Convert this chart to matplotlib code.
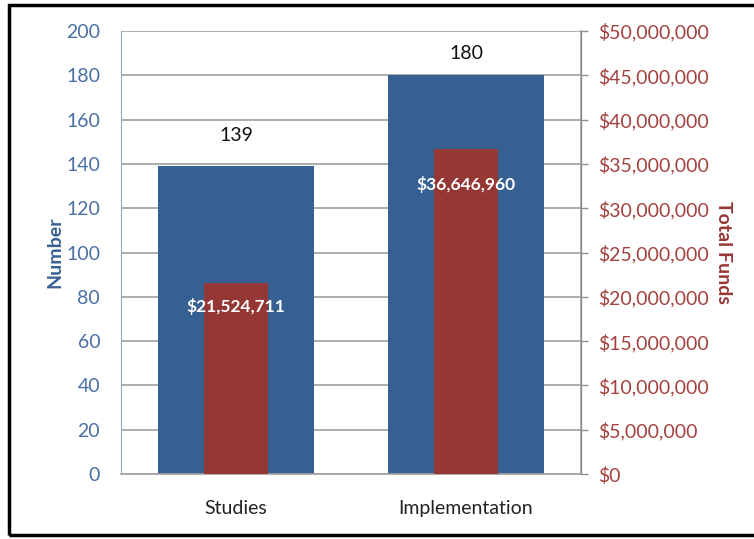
import matplotlib
matplotlib.use("Agg")
import matplotlib.pyplot as plt
from matplotlib.patches import Rectangle
from matplotlib.ticker import FuncFormatter

categories = ["Studies", "Implementation"]
numbers = [139, 180]
funds = [21524711, 36646960]
number_ticks = list(range(0, 201, 20))
fund_ticks = list(range(0, 50000001, 5000000))

plt.rcParams['font.family'] = ['Lato', 'DejaVu Sans']

BLUE = "#366092"
RED = "#953735"
BLUE_TXT = "#4A6FA4"
RED_TXT = "#A3423F"

fig = plt.figure(figsize=(7.54, 5.39), dpi=100)
ax = fig.add_axes([121/754, 1-474/539, 460/754, 443/539])
ax2 = ax.twinx()

x = list(range(len(categories)))
ax.bar(x, numbers, width=0.674, color=BLUE, zorder=2)
ax2.bar(x, funds, width=0.28, color=RED, zorder=2)

ax.set_xlim(-0.5, 1.5)
ax.set_ylim(0, 200)
ax2.set_ylim(0, 50000000)
ax.set_yticks(number_ticks)
ax2.set_yticks(fund_ticks)
ax2.yaxis.set_major_formatter(FuncFormatter(lambda v, p: "${:,.0f}".format(v)))
ax.set_xticks(x)
ax.set_xticklabels(categories, fontsize=14, color="#222222")

ax.set_axisbelow(True)
ax.yaxis.grid(True, color="#A0A0A0", linewidth=1.2)
ax.tick_params(axis='y', length=0, labelsize=14, labelcolor=BLUE_TXT, pad=15)
ax.tick_params(axis='x', length=0, pad=19)
ax2.tick_params(axis='y', length=5, width=1, color="#909090", labelsize=14,
                labelcolor=RED_TXT, pad=7, direction='out')

for a in (ax, ax2):
    a.spines['top'].set_visible(False)
ax.spines['left'].set_color("#8FA8CC")
ax.spines['bottom'].set_color("#A0A0A0")
ax.spines['bottom'].set_linewidth(1.2)
ax2.spines['left'].set_visible(False)
ax2.spines['bottom'].set_visible(False)
ax2.spines['right'].set_color("#A0A0A0")
ax2.spines['right'].set_linewidth(1.2)

ax.set_ylabel("Number", fontsize=14, fontweight='bold', color=BLUE, labelpad=2)
ax2.set_ylabel("Total Funds", fontsize=14, fontweight='bold', color=RED,
               rotation=-90, labelpad=5, va='bottom')

num_offsets = [31, 22]
for xi, v, off in zip(x, numbers, num_offsets):
    ax.annotate(str(v), (xi, v), xytext=(0, off * 0.72), textcoords='offset points',
                ha='center', va='center', fontsize=14, color="#111111")

fund_offsets = [23, 35]
for xi, v, off in zip(x, funds, fund_offsets):
    ax2.annotate("${:,.0f}".format(v), (xi, v), xytext=(0, -off * 0.72),
                 textcoords='offset points', ha='center', va='center',
                 fontsize=12.5, fontweight='bold', color="white", zorder=5)

fig.patches.append(Rectangle((9/754, 1-535/539), 760/754, (535-5)/539,
                             transform=fig.transFigure, fill=False,
                             edgecolor="black", linewidth=2.5))

fig.savefig("out.png", dpi=100)
